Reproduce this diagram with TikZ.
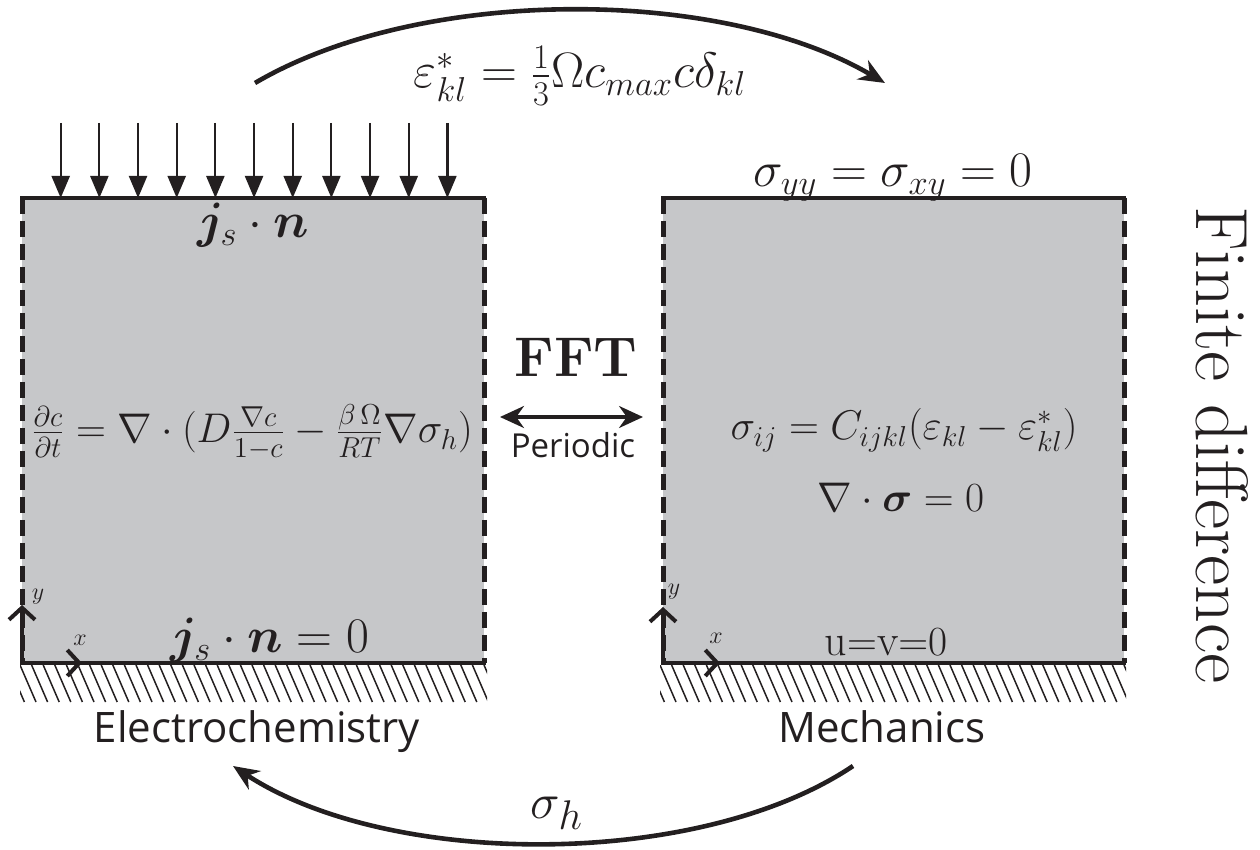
\documentclass[tikz,border=0pt]{standalone}
\usepackage{amsmath,bm}
\usepackage{fontspec}
\newfontfamily\labelfont{Open Sans}
\usetikzlibrary{arrows.meta}
\definecolor{boxgray}{RGB}{198,199,201}
\definecolor{ink}{RGB}{35,31,32}
\tikzset{
  region/.style={fill=boxgray, draw=none},
  solidedge/.style={draw=ink, line width=2.3pt},
  dashededge/.style={draw=ink, line width=2.5pt, dash pattern=on 8pt off 3.5pt},
  hatchline/.style={draw=ink, line width=0.75pt},
  fluxarrow/.style={draw=ink, line width=1.1pt, -{Triangle[width=9pt,length=11pt]}},
  axisarrow/.style={draw=ink, line width=2pt, -{Straight Barb[length=6pt,width=13pt,line width=2pt]}},
  bigarc/.style={draw=ink, line width=2.3pt, -{Stealth[length=13pt,width=11pt]}},
  dblarrow/.style={draw=ink, line width=1.6pt, {Stealth[length=12pt,width=11pt]}-{Stealth[length=12pt,width=11pt]}},
  lbl/.style={inner sep=0pt, text=ink},
}
\begin{document}
\begin{tikzpicture}[x=0.5pt,y=-0.5pt]
\useasboundingbox (0,0) rectangle (1260,850);

% boxes
\fill[region] (22,198) rectangle (484,663);
\fill[region] (663,198) rectangle (1124,663);

% hatching
\begin{scope}
\clip (20,665) rectangle (487,702);
\foreach \i in {-3,...,42} \draw[hatchline] ({20+\i*11.6},665) -- ({20+\i*11.6+16},702);
\end{scope}
\begin{scope}
\clip (660,665) rectangle (1126,702);
\foreach \i in {-3,...,42} \draw[hatchline] ({660+\i*11.6},665) -- ({660+\i*11.6+16},702);
\end{scope}

% edges
\draw[dashededge] (22,198) -- (22,663);
\draw[dashededge] (484,198) -- (484,663);
\draw[dashededge] (663,198) -- (663,663);
\draw[dashededge] (1124,198) -- (1124,663);
\draw[solidedge] (20,198) -- (486,198);
\draw[solidedge] (20,663) -- (486,663);
\draw[solidedge] (661,198) -- (1126,198);
\draw[solidedge] (661,663) -- (1126,663);

% flux arrows
\foreach \k in {0,...,10} {
  \coordinate (fa\k) at ({60.7+\k*38.67},123);
  \coordinate (fb\k) at ({60.7+\k*38.67},198);
  \draw[fluxarrow] (fa\k) -- (fb\k);
}

% axes
\coordinate (o1) at (22,663);
\coordinate (y1) at (22,605);
\coordinate (x1) at (82,663);
\draw[axisarrow] (o1) -- (y1);
\draw[axisarrow] (o1) -- (x1);
\node[lbl, font=\fontsize{12}{14}\selectfont] (ylab1) at (38,597) {$y$};
\node[lbl, font=\fontsize{12}{14}\selectfont] (xlab1) at (80,640) {$x$};
\coordinate (o2) at (663,663);
\coordinate (y2) at (663,607);
\coordinate (x2) at (720,663);
\draw[axisarrow] (o2) -- (y2);
\draw[axisarrow] (o2) -- (x2);
\node[lbl, font=\fontsize{12}{14}\selectfont] (ylab2) at (674,592) {$y$};
\node[lbl, font=\fontsize{12}{14}\selectfont] (xlab2) at (716,638) {$x$};

% texts left
\node[lbl, anchor=base, font=\fontsize{24}{28}\selectfont] (jsn) at (253,238) {$\bm{j}_s\cdot\bm{n}$};
\node[lbl, anchor=base, font=\fontsize{24}{28}\selectfont] (jsn0) at (270,653) {$\bm{j}_s\cdot\bm{n}=0$};
\node[lbl, font=\fontsize{20.5}{24}\selectfont] (diff) at (252,432) {$\frac{\partial c}{\partial t}=\nabla\cdot(D\frac{\nabla c}{1-c}-\frac{\beta\,\Omega}{RT}\nabla\sigma_h)$};
\node[lbl, anchor=base, font=\labelfont\fontsize{21}{25}\selectfont] (echem) at (257,742) {Electrochemistry};

% texts right
\node[lbl, anchor=base, font=\fontsize{25}{30}\selectfont] (topbc) at (893,187) {$\sigma_{yy}=\sigma_{xy}=0$};
\node[lbl, anchor=base, font=\fontsize{20}{24}\selectfont] (const) at (904,440) {$\sigma_{ij}=C_{ijkl}(\varepsilon_{kl}-\varepsilon^{*}_{kl})$};
\node[lbl, anchor=base, font=\fontsize{21}{25}\selectfont] (equil) at (901,511) {$\nabla\cdot\bm{\sigma}=0$};
\node[lbl, anchor=base, font=\fontsize{22}{26}\selectfont] (uv) at (886,655) {$\mathrm{u}{=}\mathrm{v}{=}0$};
\node[lbl, anchor=base, font=\labelfont\fontsize{21}{25}\selectfont] (mech) at (882,742) {Mechanics};

% middle
\node[lbl, anchor=base, font=\bfseries\fontsize{28}{32}\selectfont] (fft) at (576,377) {FFT};
\coordinate (pl) at (500,417);
\coordinate (pr) at (643,417);
\draw[dblarrow] (pl) -- (pr);
\node[lbl, anchor=base, font=\labelfont\fontsize{16.5}{19}\selectfont] (per) at (573,458) {Periodic};

% right vertical label
\node[lbl, rotate=-90, font=\fontsize{37}{40}\selectfont] (fd) at (1222,445) {Finite difference};

% arcs
\coordinate (ta) at (255,83);
\coordinate (tb) at (885,83);
\draw[bigarc] (ta) .. controls (420,-14) and (720,-14) .. (tb);
\node[lbl, anchor=base, font=\fontsize{26}{30}\selectfont] (eps) at (580,88) {$\varepsilon^{*}_{kl}=\frac{1}{3}\Omega c_{max}c\delta_{kl}$};
\coordinate (ba) at (853,766);
\coordinate (bb) at (233,766);
\draw[bigarc] (ba) .. controls (700,869) and (390,869) .. (bb);
\node[lbl, anchor=base, font=\fontsize{32}{36}\selectfont] (sh) at (557,818) {$\sigma_h$};
\end{tikzpicture}
\end{document}
